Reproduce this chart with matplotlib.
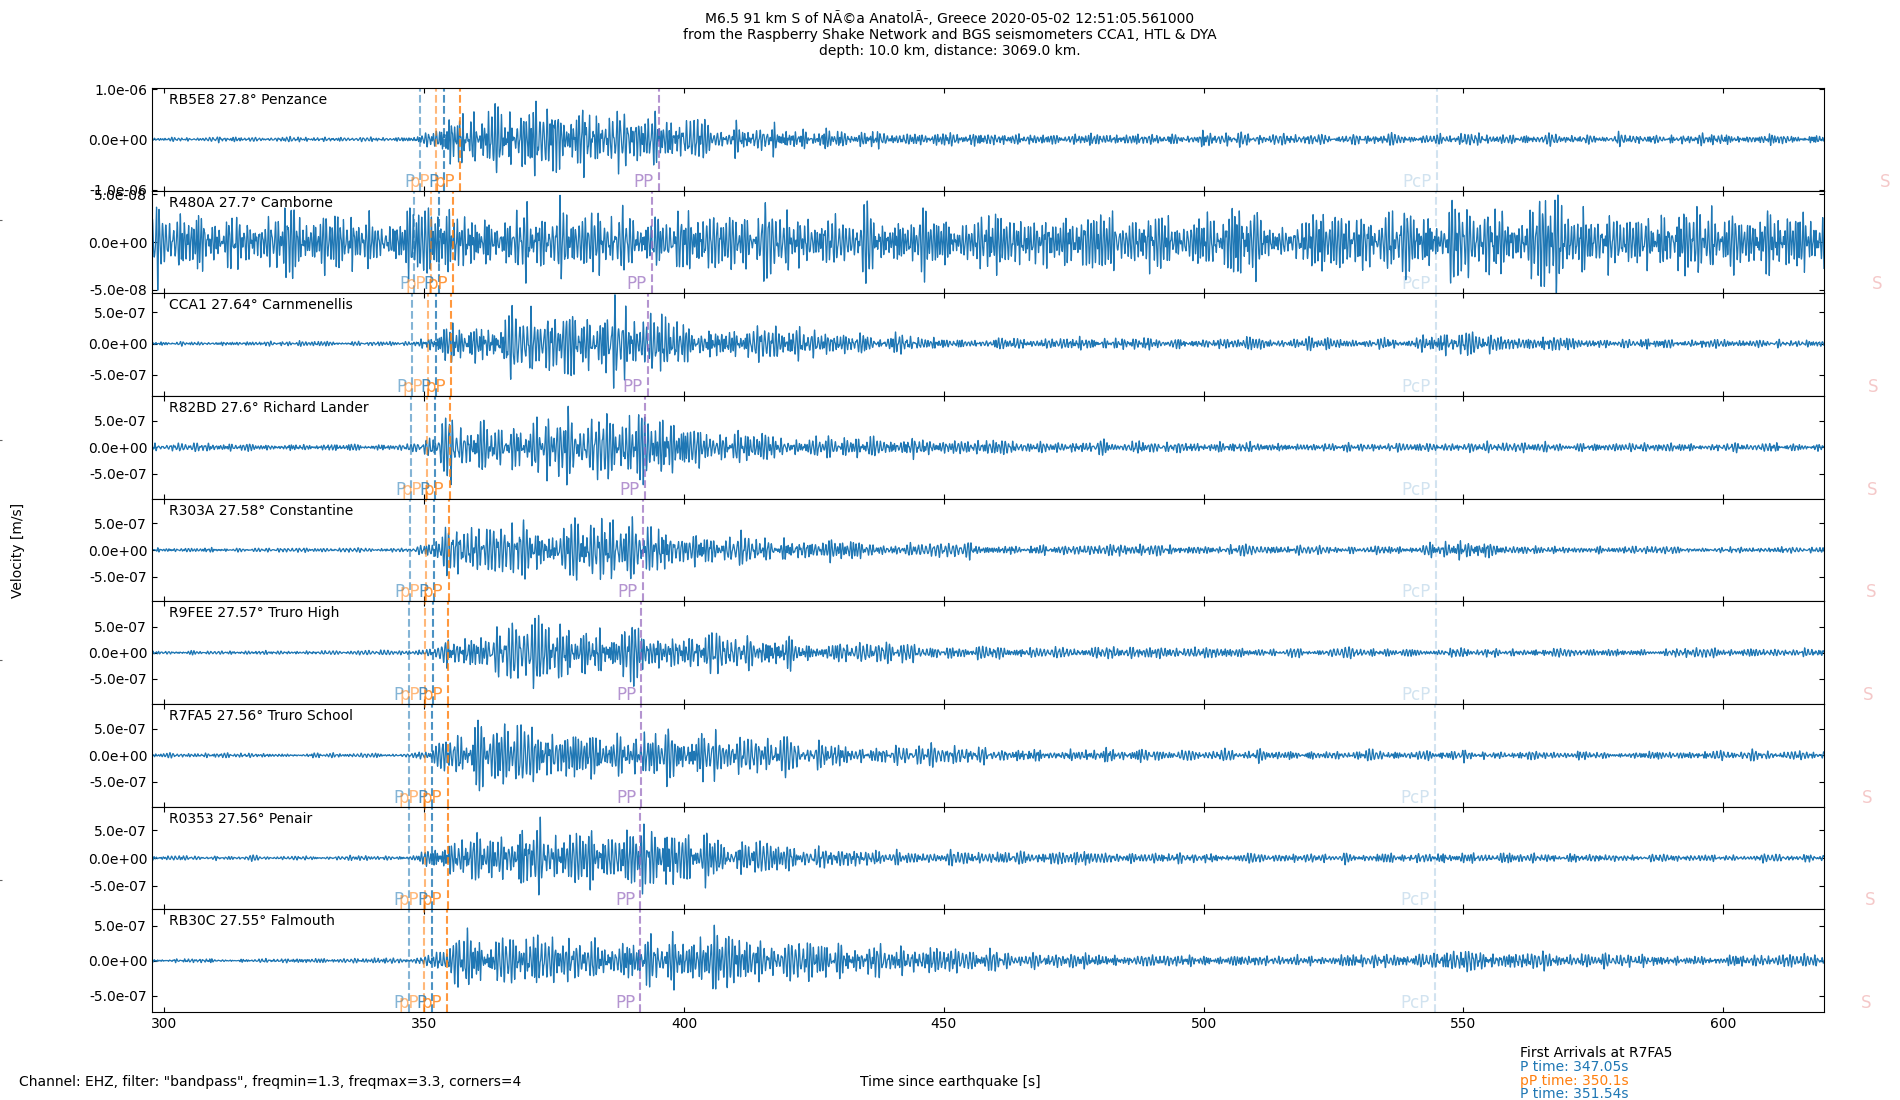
import numpy as np
import matplotlib
matplotlib.use("Agg")
import matplotlib.pyplot as plt
from matplotlib.ticker import FormatStrFormatter

# ---------------- data ----------------
stations = ["RB5E8 27.8\u00b0 Penzance", "R480A 27.7\u00b0 Camborne", "CCA1 27.64\u00b0 Carnmenellis",
            "R82BD 27.6\u00b0 Richard Lander", "R303A 27.58\u00b0 Constantine", "R9FEE 27.57\u00b0 Truro High",
            "R7FA5 27.56\u00b0 Truro School", "R0353 27.56\u00b0 Penair", "RB30C 27.55\u00b0 Falmouth"]

# arrival times [s] per station
p1_times = [349.2, 348.1, 347.6, 347.4, 347.2, 347.1, 347.05, 347.05, 347.0]
pp1_times = [352.2, 351.3, 350.7, 350.5, 350.3, 350.2, 350.1, 350.1, 350.0]
p2_times = [353.8, 352.8, 352.2, 352.0, 351.8, 351.6, 351.54, 351.54, 351.5]
pp2_times = [356.9, 355.6, 355.2, 354.9, 354.7, 354.6, 354.5, 354.5, 354.4]
PP_times = [395.1, 393.8, 393.0, 392.5, 392.1, 391.8, 391.8, 391.6, 391.6]
PcP_times = [545.0, 544.8, 544.8, 544.8, 544.7, 544.7, 544.6, 544.6, 544.5]
S_times = [633.2, 631.6, 630.8, 630.6, 630.4, 629.9, 629.8, 630.3, 629.5]

# y axis limits and ticks per station [m/s]
ylim_bottom = [-1.02e-6, -5.4e-8, -8.37e-7, -9.65e-7, -9.65e-7, -9.9e-7, -9.65e-7, -9.2e-7, -7.3e-7]
ylim_top = [1.02e-6, 5.4e-8, 8.03e-7, 9.65e-7, 9.65e-7, 9.9e-7, 9.65e-7, 9.2e-7, 7.3e-7]
ytick_step = [1.0e-6, 5.0e-8, 5.0e-7, 5.0e-7, 5.0e-7, 5.0e-7, 5.0e-7, 5.0e-7, 5.0e-7]

# amplitude envelope of each trace (typical peak, units of 1e-7 m/s) at these times [s]
env_t = [297, 340, 348, 352, 355, 360, 365, 370, 375, 380, 385, 390, 395, 400, 405, 410, 420, 430,
         440, 450, 460, 470, 480, 490, 500, 510, 520, 530, 540, 545, 550, 555, 560, 570, 580, 590,
         600, 610, 621]
env_RB5E8 = [0.3, 0.3, 0.3, 1.5, 4.0, 4.8, 4.8, 5.8, 5.2, 4.6, 4.5, 4.0, 3.8, 3.5, 3.0, 2.5, 1.8, 1.4,
             1.2, 1.0, 1.0, 0.9, 0.8, 0.8, 0.8, 0.8, 0.7, 0.7, 0.7, 0.8, 1.0, 0.9, 0.8, 0.7, 0.7, 0.7,
             0.8, 0.8, 0.7]
env_R480A = [0.24, 0.24, 0.25, 0.25, 0.24, 0.24, 0.23, 0.24, 0.25, 0.24, 0.23, 0.24, 0.24, 0.24, 0.23,
             0.24, 0.24, 0.23, 0.24, 0.24, 0.24, 0.23, 0.24, 0.24, 0.24, 0.23, 0.24, 0.24, 0.24, 0.25,
             0.25, 0.24, 0.25, 0.25, 0.25, 0.26, 0.25, 0.25, 0.25]
env_CCA1 = [0.25, 0.25, 0.3, 1.0, 2.5, 3.0, 3.5, 3.8, 4.2, 3.8, 4.2, 4.0, 3.5, 3.2, 2.8, 2.4, 1.8, 1.4,
            1.1, 0.9, 0.8, 0.7, 0.7, 0.6, 0.6, 0.6, 0.6, 0.6, 0.6, 1.0, 1.2, 1.0, 0.8, 0.7, 0.6, 0.5,
            0.5, 0.5, 0.4]
env_R82BD = [0.5, 0.5, 0.5, 1.5, 3.0, 3.5, 4.0, 4.5, 4.5, 4.5, 4.2, 4.8, 4.5, 3.8, 3.0, 2.5, 1.8, 1.5,
             1.3, 1.1, 1.0, 0.9, 0.9, 0.8, 0.8, 0.7, 0.7, 0.6, 0.6, 0.6, 0.6, 0.6, 0.6, 0.6, 0.6, 0.6,
             0.6, 0.6, 0.6]
env_R303A = [0.3, 0.3, 0.3, 1.5, 3.0, 3.5, 4.0, 4.0, 4.5, 4.0, 3.5, 3.5, 3.0, 2.8, 2.5, 2.2, 1.6, 1.3,
             1.0, 0.9, 0.8, 0.8, 0.7, 0.7, 0.7, 0.6, 0.6, 0.6, 0.6, 1.2, 1.8, 1.0, 0.7, 0.6, 0.5, 0.5,
             0.5, 0.5, 0.5]
env_R9FEE = [0.3, 0.3, 0.3, 1.2, 2.5, 3.0, 3.8, 4.2, 4.5, 4.0, 4.0, 4.5, 4.0, 3.0, 2.8, 2.4, 2.0, 1.6,
             1.4, 1.0, 0.9, 0.8, 0.8, 0.8, 0.7, 0.7, 0.7, 0.6, 0.6, 0.6, 0.6, 0.6, 0.6, 0.6, 0.6, 0.6,
             0.6, 0.6, 0.6]
env_R7FA5 = [0.3, 0.3, 0.3, 1.5, 3.0, 4.0, 4.5, 4.2, 4.0, 4.0, 3.8, 3.5, 3.5, 3.2, 2.8, 2.6, 2.2, 1.8,
             1.4, 1.2, 1.1, 1.1, 0.9, 0.8, 0.8, 0.8, 0.7, 0.7, 0.6, 0.6, 0.7, 0.6, 0.6, 0.6, 0.6, 0.6,
             0.6, 0.6, 0.6]
env_R0353 = [0.3, 0.3, 0.3, 1.5, 3.0, 3.8, 4.2, 4.5, 4.2, 4.0, 3.8, 4.0, 4.5, 3.5, 3.0, 2.5, 1.8, 1.4,
             1.1, 0.9, 0.8, 0.8, 0.7, 0.7, 0.7, 0.6, 0.6, 0.6, 0.6, 0.7, 0.7, 0.6, 0.6, 0.6, 0.5, 0.5,
             0.5, 0.5, 0.5]
env_RB30C = [0.25, 0.25, 0.25, 1.0, 2.0, 2.5, 3.0, 3.5, 3.0, 2.8, 2.6, 2.5, 3.0, 3.0, 2.8, 2.5, 2.0, 1.8,
             1.6, 1.2, 1.0, 0.8, 0.7, 0.7, 0.6, 0.6, 0.6, 0.6, 0.7, 1.0, 1.3, 1.1, 0.9, 0.7, 0.6, 0.6,
             0.6, 0.6, 0.6]
envelopes = [env_RB5E8, env_R480A, env_CCA1, env_R82BD, env_R303A, env_R9FEE, env_R7FA5, env_R0353, env_RB30C]

x_start, x_end = 297.6, 619.4
xticks = [300, 350, 400, 450, 500, 550, 600]

# filter passband (Hz)
freqmin, freqmax = 1.3, 3.3
n_components = 80

title = ("M6.5 91 km S of N\u00c3\u00a9a Anatol\u00c3\u00ad, Greece 2020-05-02 12:51:05.561000\n"
         "from the Raspberry Shake Network and BGS seismometers CCA1, HTL & DYA\n"
         "depth: 10.0 km, distance: 3069.0 km.")
channel_text = 'Channel: EHZ, filter: "bandpass", freqmin=1.3, freqmax=3.3, corners=4'
arrival_lines = ["First Arrivals at R7FA5", "P time: 347.05s", "pP time: 350.1s", "P time: 351.54s"]

# ---------------- figure ----------------
fig, axs = plt.subplots(9, 1, figsize=(19, 11), dpi=100, sharex=True)
fig.subplots_adjust(left=0.08, right=0.96, top=0.92, bottom=0.08, hspace=0)

# full-figure frameless axes (its y ticks show at the left edge)
bg = fig.add_axes([0, 0, 1, 1], frameon=False, zorder=-5)
bg.set_xticks([])
bg.set_yticks([0.2, 0.4, 0.6, 0.8])
bg.tick_params(axis="y", direction="inout", length=3, labelleft=False, color="0.4")

t = np.arange(x_start, x_end, 0.01)
root2 = 1.4142135623730951
root3 = 1.7320508075688772

phase_styles = [  # (times, label, color, alpha)
    (p1_times, "P", "C0", 0.55),
    (pp1_times, "pP", "C1", 0.55),
    (p2_times, "P", "C0", 0.8),
    (pp2_times, "pP", "C1", 0.8),
    (PP_times, "PP", "C4", 0.7),
    (PcP_times, "PcP", "C0", 0.2),
    (S_times, "S", "C3", 0.25),
]

for i, ax in enumerate(axs):
    # band-limited carrier: irregularly spaced tones inside the passband, quadratic phases,
    # weighted toward the low end of the band
    carrier = np.zeros_like(t)
    for k in range(1, n_components + 1):
        u = (np.sqrt(k + 0.5 + 37.0 * i) * 7.31) % 1.0
        f = freqmin + (freqmax - freqmin) * u
        ph = 2 * np.pi * ((k * k * root2 + i * root3 + k * i * 0.377) % 1.0)
        carrier += (freqmin / f) ** 2 * np.sin(2 * np.pi * f * t + ph)
    carrier = carrier / carrier.std() * 0.56
    env = np.interp(t, env_t, envelopes[i]) * 1e-7
    ax.plot(t, carrier * env, color="C0", lw=0.9)

    yb, yt = ylim_bottom[i], ylim_top[i]
    for times, name, col, al in phase_styles:
        ax.axvline(times[i], ls="--", color=col, alpha=al, lw=1.5)
        ax.text(times[i] - 1.0, yb, name, color=col, alpha=al, ha="right", va="bottom",
                fontsize=12, clip_on=False)

    ax.text(0.01, 0.95, stations[i], transform=ax.transAxes, va="top", fontsize=10)
    ax.set_ylim(yb, yt)
    step = ytick_step[i]
    ax.set_yticks([-step, 0.0, step])
    ax.yaxis.set_major_formatter(FormatStrFormatter("%.1e"))
    ax.tick_params(direction="in", top=True, right=True)

axs[-1].set_xlim(x_start, x_end)
axs[-1].set_xticks(xticks)

fig.suptitle(title, y=0.99, fontsize=10)
fig.text(0.01, 0.01, channel_text, ha="left", va="bottom", fontsize=10)
fig.text(0.5, 0.01, "Time since earthquake [s]", ha="center", va="bottom", fontsize=10)
fig.text(0.0095, 0.5, "Velocity [m/s]", rotation=90, ha="center", va="center", fontsize=10)

arr_y = [0.0427, 0.0302, 0.0177, 0.0052]
arr_c = ["black", "C0", "C1", "C0"]
for s, yy, cc in zip(arrival_lines, arr_y, arr_c):
    fig.text(0.8, yy, s, color=cc, ha="left", va="center", fontsize=10)

fig.savefig("out.png", dpi=100)
